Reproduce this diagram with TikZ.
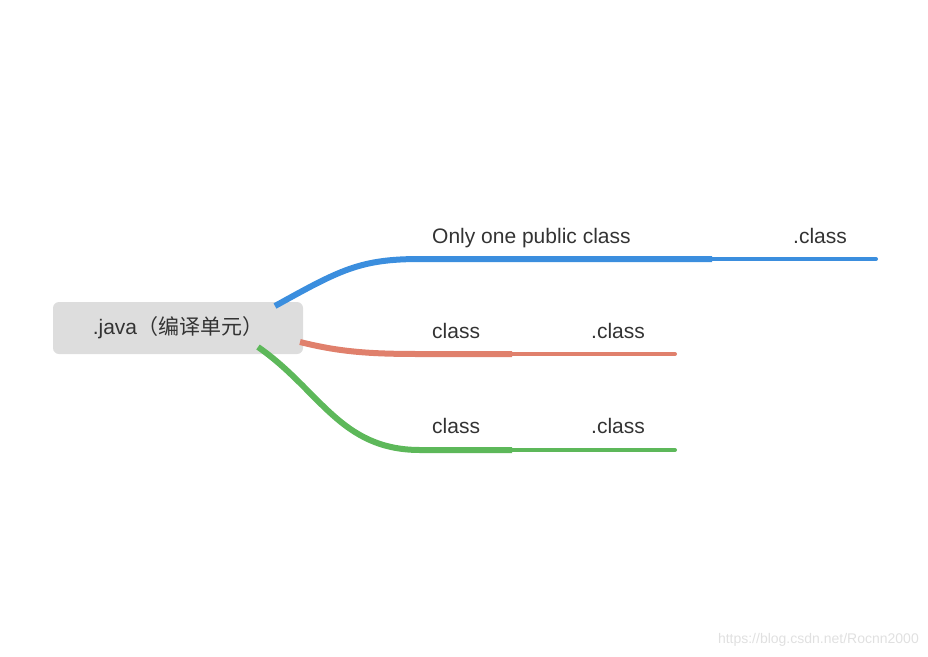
\documentclass[tikz,border=0pt]{standalone}
\usepackage{fontspec}
\setmainfont{Liberation Sans}
\newfontfamily\cjk{Noto Sans CJK SC}
\definecolor{cblue}{HTML}{3B8EDE}
\definecolor{cred}{HTML}{E0806C}
\definecolor{cgreen}{HTML}{5DB85A}
\definecolor{rootgray}{HTML}{DDDDDD}
\definecolor{txt}{HTML}{333333}
\begin{document}
\begin{tikzpicture}[x=1pt,y=-1pt,
  lbl/.style={font=\fontsize{21}{24}\selectfont, text=txt, anchor=base west, inner sep=0pt},
  thickline/.style={line width=6pt},
  thinline/.style={line width=4pt, line cap=round}]
\useasboundingbox (0,0) rectangle (928,656);
\node[fill=rootgray, rounded corners=6pt, minimum width=250pt, minimum height=52pt, inner sep=0pt,
  font=\fontsize{21}{24}\selectfont, text=txt] (root) at (178,328) {.java{\cjk（编译单元）}};
% blue
\coordinate (b0) at (275,306); \coordinate (b1) at (420,259); \coordinate (b2) at (712,259); \coordinate (b3) at (876,259);
\draw[cblue, thickline] (b0) .. controls (340,270) and (360,259) .. (b1) -- (b2);
\draw[cblue, thinline] (b2) -- (b3);
\node[lbl] (t1) at (432,243) {Only one public class};
\node[lbl] (t2) at (793,243) {.class};
% red
\coordinate (r0) at (300,342); \coordinate (r1) at (420,354); \coordinate (r2) at (512,354); \coordinate (r3) at (675,354);
\draw[cred, thickline] (r0) .. controls (340,352) and (370,354) .. (r1) -- (r2);
\draw[cred, thinline] (r2) -- (r3);
\node[lbl] (t3) at (432,338) {class};
\node[lbl] (t4) at (591,338) {.class};
% green
\coordinate (g0) at (258,347); \coordinate (g1) at (420,450); \coordinate (g2) at (512,450); \coordinate (g3) at (675,450);
\draw[cgreen, thickline] (g0) .. controls (320,390) and (340,450) .. (g1) -- (g2);
\draw[cgreen, thinline] (g2) -- (g3);
\node[lbl] (t5) at (432,433) {class};
\node[lbl] (t6) at (591,433) {.class};
\node[font=\fontsize{14}{16}\selectfont, text=black!12, anchor=base east, inner sep=0pt] (wm) at (919,643) {https://blog.csdn.net/Rocnn2000};
\end{tikzpicture}
\end{document}
